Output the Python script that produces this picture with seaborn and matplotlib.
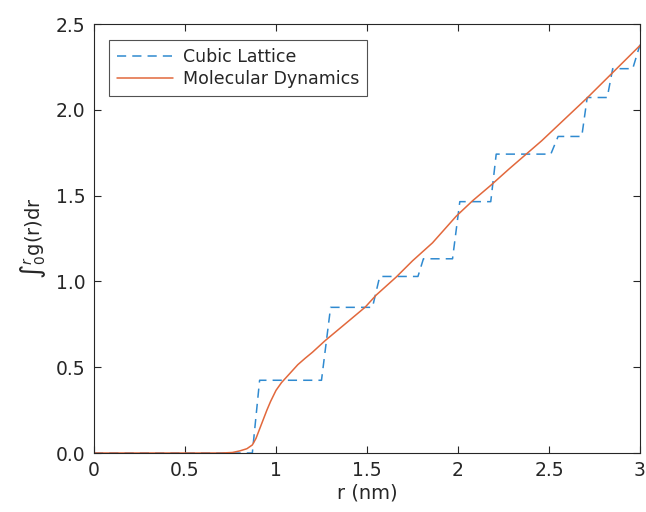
import matplotlib
matplotlib.use("Agg")
import matplotlib.pyplot as plt
import seaborn as sns
import pandas as pd

# Cubic lattice staircase
r_cubic = [0, 0.87, 0.91, 1.25, 1.30, 1.53, 1.57, 1.78, 1.81, 1.97, 2.01, 2.18, 2.21,
           2.51, 2.55, 2.68, 2.71, 2.82, 2.85, 2.96, 3.0]
y_cubic = [0, 0, 0.424, 0.424, 0.849, 0.849, 1.029, 1.029, 1.132, 1.132, 1.465, 1.465,
           1.742, 1.742, 1.845, 1.845, 2.072, 2.072, 2.240, 2.240, 2.380]

# Molecular dynamics curve
r_md = [0, 0.70, 0.76, 0.80, 0.84, 0.87, 0.89, 0.91, 0.93, 0.95, 0.97, 1.00, 1.03, 1.06,
        1.09, 1.12, 1.16, 1.20, 1.27, 1.40, 1.49, 1.55, 1.66, 1.75, 1.86, 1.99, 2.08,
        2.18, 2.28, 2.46, 2.71, 3.0]
y_md = [0, 0, 0.003, 0.012, 0.025, 0.047, 0.085, 0.14, 0.195, 0.25, 0.30, 0.365, 0.41,
        0.445, 0.48, 0.515, 0.552, 0.587, 0.655, 0.77, 0.85, 0.92, 1.025, 1.12, 1.225,
        1.38, 1.47, 1.56, 1.655, 1.82, 2.07, 2.375]

series_names = ["Cubic Lattice", "Molecular Dynamics"]
x_ticks = [0, 0.5, 1, 1.5, 2, 2.5, 3]
x_ticklabels = ["0", "0.5", "1", "1.5", "2", "2.5", "3"]
y_ticks = [0, 0.5, 1.0, 1.5, 2.0, 2.5]
y_ticklabels = ["0.0", "0.5", "1.0", "1.5", "2.0", "2.5"]

sns.set_style("ticks")
plt.rcParams["font.family"] = ["DejaVu Sans"]
plt.rcParams["xtick.direction"] = "in"
plt.rcParams["ytick.direction"] = "in"

fig = plt.figure(figsize=(6.46, 5.12), dpi=100)
ax = fig.add_axes([0.1455, 0.1152, 0.9907 - 0.1455, 0.953 - 0.1152])

df_cubic = pd.DataFrame({"r": r_cubic, "y": y_cubic})
df_md = pd.DataFrame({"r": r_md, "y": y_md})

blue = "#2f8ad0"
orange = "#e2683c"

sns.lineplot(data=df_cubic, x="r", y="y", ax=ax, color=blue, linewidth=1.1,
             label=series_names[0], sort=False)
ax.lines[-1].set_dashes([6, 4])
sns.lineplot(data=df_md, x="r", y="y", ax=ax, color=orange, linewidth=1.1,
             label=series_names[1], sort=False)

ax.set_xlim(0, 3)
ax.set_ylim(0, 2.5)
ax.set_xticks(x_ticks)
ax.set_xticklabels(x_ticklabels)
ax.set_yticks(y_ticks)
ax.set_yticklabels(y_ticklabels)

tc = "#262626"
for s in ax.spines.values():
    s.set_visible(True)
    s.set_color(tc)
    s.set_linewidth(0.8)
ax.tick_params(axis="both", which="both", direction="in", length=5, width=0.8,
               colors=tc, labelsize=13.5, top=True, right=True, pad=6)

ax.set_xlabel("r (nm)", fontsize=14, color=tc, labelpad=2)
ax.set_ylabel("∫$_0^r$g(r)dr", fontsize=14, color=tc, labelpad=6)

leg = ax.legend(loc="upper left", bbox_to_anchor=(0.028, 0.963), fontsize=12.5,
                frameon=True, fancybox=False, handlelength=3.2, borderpad=0.45,
                labelspacing=0.25, handletextpad=0.6, borderaxespad=0)
leg.get_frame().set_edgecolor(tc)
leg.get_frame().set_linewidth(0.8)
for t in leg.get_texts():
    t.set_color(tc)

fig.savefig("out.png", dpi=100)
